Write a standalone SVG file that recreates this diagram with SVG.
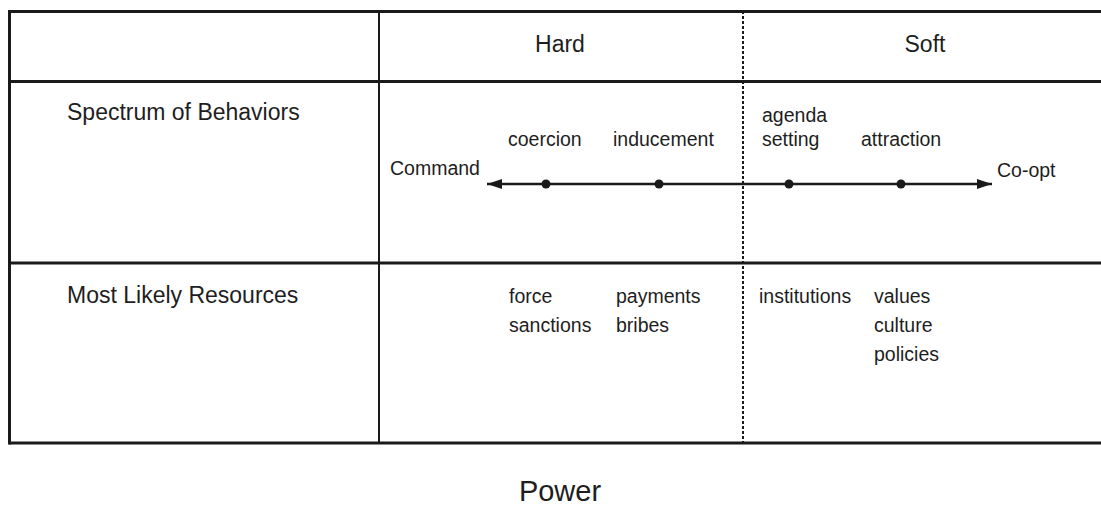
<svg xmlns="http://www.w3.org/2000/svg" width="1101" height="505" viewBox="0 0 1101 505">
<defs>
<style>
.t{font-family:"Liberation Sans",Arial,sans-serif;fill:#1e1e1e}
.h{font-size:23px}
.s{font-size:19.5px}
.b{stroke:#1a1a1a;stroke-width:3;fill:none}
.v{stroke:#1a1a1a;stroke-width:2;fill:none}
.d{stroke:#1a1a1a;stroke-width:2;stroke-dasharray:3 2;fill:none}
.dot{fill:#1a1a1a}
</style>
<marker id="ah" viewBox="0 0 15 10" refX="15" refY="5" markerWidth="6" markerHeight="4" markerUnits="strokeWidth" orient="auto-start-reverse">
<path d="M0,0 L15,5 L0,10 z" fill="#1a1a1a"/>
</marker>
</defs>
<rect width="1101" height="505" fill="#fff"/>
<g id="table">
<line class="b" x1="9" y1="11.5" x2="1101" y2="11.5"/>
<line class="b" x1="9" y1="81.5" x2="1101" y2="81.5"/>
<line class="b" x1="9" y1="263" x2="1101" y2="263"/>
<line class="b" x1="9" y1="443" x2="1101" y2="443"/>
<line class="b" x1="9.5" y1="10" x2="9.5" y2="444.5"/>
<line class="v" x1="379" y1="11" x2="379" y2="443"/>
<line class="d" x1="743" y1="11" x2="743" y2="443"/>
</g>
<g id="header-hard"><text class="t h" x="560" y="52" text-anchor="middle">Hard</text></g>
<g id="header-soft"><text class="t h" x="925" y="52" text-anchor="middle">Soft</text></g>
<g id="row-behaviors"><text class="t h" x="67" y="120">Spectrum of Behaviors</text></g>
<g id="row-resources"><text class="t h" x="67" y="303">Most Likely Resources</text></g>
<g id="connectors">
<line x1="487" y1="184" x2="992" y2="184" stroke="#1a1a1a" stroke-width="2.5" marker-start="url(#ah)" marker-end="url(#ah)"/>
</g>
<g id="command"><text class="t s" x="390" y="175">Command</text></g>
<g id="coopt"><text class="t s" x="997" y="177">Co-opt</text></g>
<g id="coercion"><circle class="dot" cx="546" cy="184" r="4.5"/><text class="t s" x="508" y="146">coercion</text></g>
<g id="inducement"><circle class="dot" cx="659" cy="184" r="4.5"/><text class="t s" x="613" y="146">inducement</text></g>
<g id="agenda-setting"><circle class="dot" cx="789" cy="184" r="4.5"/><text class="t s" x="762" y="122">agenda</text><text class="t s" x="762" y="146">setting</text></g>
<g id="attraction"><circle class="dot" cx="901" cy="184" r="4.5"/><text class="t s" x="861" y="146">attraction</text></g>
<g id="res-coercion"><text class="t s" x="509" y="303">force</text><text class="t s" x="509" y="332">sanctions</text></g>
<g id="res-inducement"><text class="t s" x="616" y="303">payments</text><text class="t s" x="616" y="332">bribes</text></g>
<g id="res-agenda"><text class="t s" x="759" y="303">institutions</text></g>
<g id="res-attraction"><text class="t s" x="874" y="303">values</text><text class="t s" x="874" y="332">culture</text><text class="t s" x="874" y="361">policies</text></g>
<g id="title"><text class="t" x="560" y="501" text-anchor="middle" font-size="29">Power</text></g>
</svg>
